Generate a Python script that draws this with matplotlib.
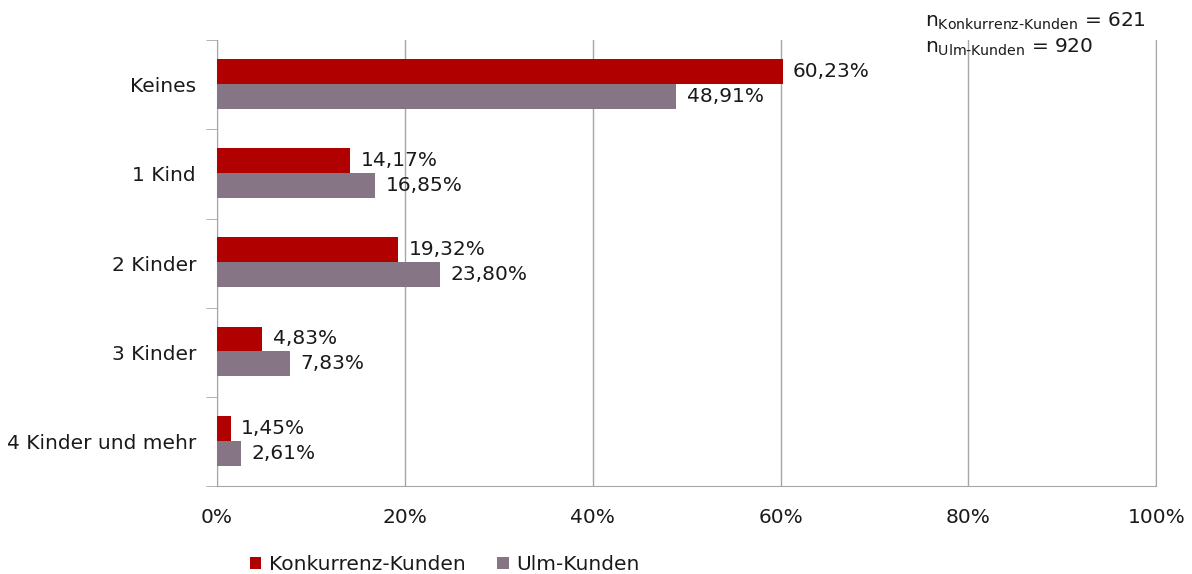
import matplotlib.pyplot as plt
import numpy as np

categories = ['Keines', '1 Kind', '2 Kinder', '3 Kinder', '4 Kinder und mehr']
konkurrenz = [60.23, 14.17, 19.32, 4.83, 1.45]
ulm = [48.91, 16.85, 23.80, 7.83, 2.61]
series_names = ['Konkurrenz-Kunden', 'Ulm-Kunden']
n_konkurrenz = 621
n_ulm = 920

red = '#B00000'
grey = '#857585'
text_col = '#1a1a1a'
line_col = '#a6a6a6'
fs = 14.5

plt.rcParams['font.family'] = ['DejaVu Sans']
plt.rcParams['mathtext.fontset'] = 'dejavusans'

fig = plt.figure(figsize=(11.92, 5.74), dpi=100)
ax = fig.add_axes([0.182, 0.153, 0.788, 0.777])

y = np.arange(len(categories))
h = 0.28
b1 = ax.barh(y - h / 2 - 0.01, konkurrenz, height=h, color=red, label=series_names[0], zorder=3)
b2 = ax.barh(y + h / 2 - 0.01, ulm, height=h, color=grey, label=series_names[1], zorder=3)

for bars, vals in [(b1, konkurrenz), (b2, ulm)]:
    for bar, v in zip(bars, vals):
        ax.text(v + 1.1, bar.get_y() + bar.get_height() / 2, f'{v:.2f}%'.replace('.', ','),
                va='center', ha='left', fontsize=fs, color=text_col)

ax.set_xlim(0, 100)
ax.set_ylim(len(categories) - 0.5, -0.5)
ax.set_xticks(np.arange(0, 101, 20))
ax.set_xticklabels([f'{t}%' for t in range(0, 101, 20)], fontsize=fs, color=text_col)
ax.set_yticks(y)
ax.set_yticklabels(categories, fontsize=fs, color=text_col)
ax.tick_params(axis='y', length=0, pad=15)
ax.tick_params(axis='x', length=0, pad=16)

# tick marks between categories
ax.set_yticks(np.arange(-0.5, len(categories) + 0.5, 1), minor=True)
ax.tick_params(axis='y', which='minor', length=8, color=line_col)
ax.set_xticks(np.arange(0, 101, 20), minor=True)
ax.tick_params(axis='x', which='minor', length=8, color=line_col)

ax.grid(axis='x', color=line_col, linewidth=1, zorder=0)
ax.spines['top'].set_visible(False)
for s in ['left', 'bottom', 'right']:
    ax.spines[s].set_color(line_col)

ax.legend(loc='lower left', bbox_to_anchor=(0.027, -0.215), ncol=2, frameon=False,
          fontsize=fs, handlelength=0.55, handleheight=0.55, handletextpad=0.4,
          columnspacing=1.55, labelcolor=text_col, borderaxespad=0)

fig.text(0.776, 0.962, r'n$_{\text{Konkurrenz-Kunden}}$ = ' + str(n_konkurrenz),
         fontsize=fs, color=text_col, va='center')
fig.text(0.776, 0.917, r'n$_{\text{Ulm-Kunden}}$ = ' + str(n_ulm),
         fontsize=fs, color=text_col, va='center')

fig.savefig('out.png', dpi=100)
